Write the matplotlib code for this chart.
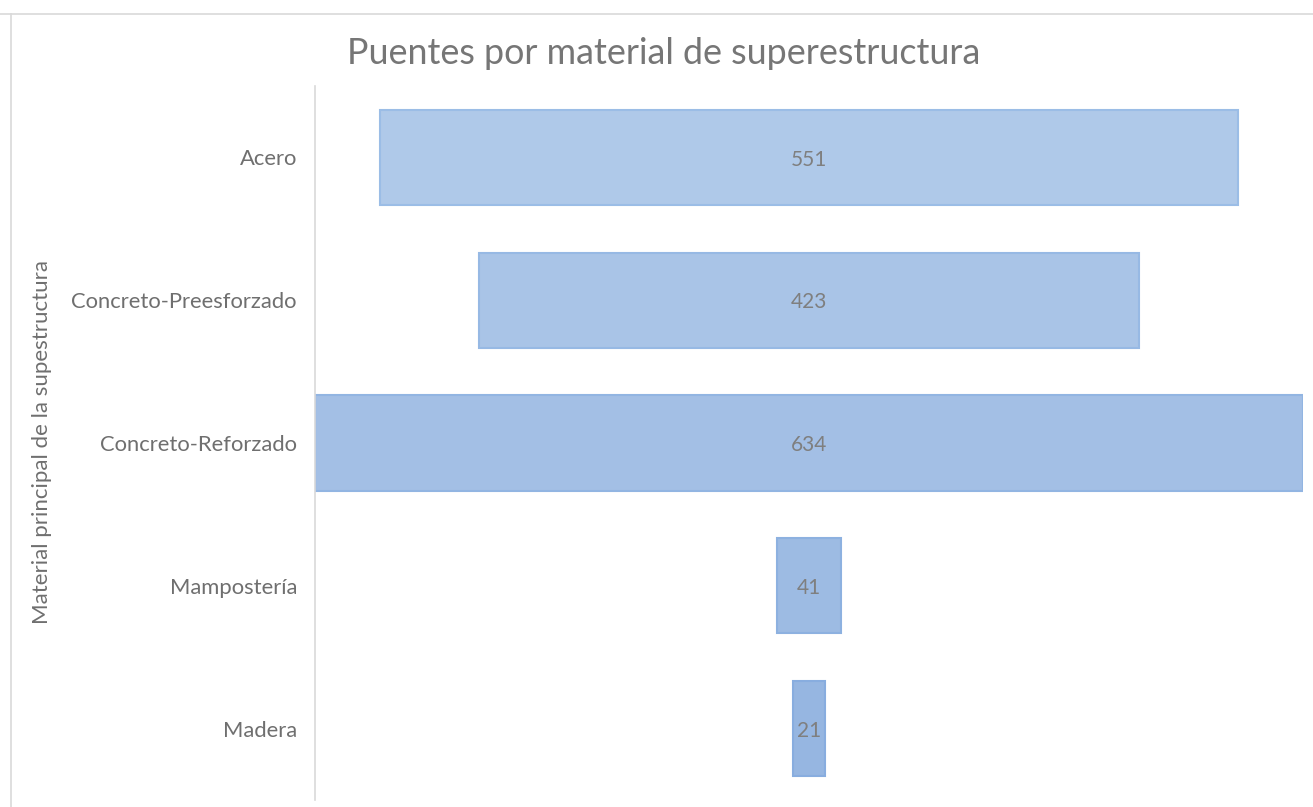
import matplotlib
matplotlib.use("Agg")
import matplotlib.pyplot as plt
from matplotlib.lines import Line2D

categories = ["Acero", "Concreto-Preesforzado", "Concreto-Reforzado", "Mampostería", "Madera"]
values = [551, 423, 634, 41, 21]
title = "Puentes por material de superestructura"
ylabel = "Material principal de la supestructura"

fill_colors = ["#afc9e9", "#a9c4e7", "#a3bfe5", "#9dbbe3", "#96b6e1"]
edge_colors = ["#9bbde6", "#97b9e4", "#92b5e2", "#8db1e0", "#88addf"]

W, H = 1313, 807
fig = plt.figure(figsize=(W / 100, H / 100), dpi=100)
plt.rcParams['font.family'] = ['Lato', 'DejaVu Sans']

# chart frame (partially visible)
fig.add_artist(Line2D([0, 1], [1 - 13.5 / H, 1 - 13.5 / H], color="#d9d9d9", lw=1.2, transform=fig.transFigure))
fig.add_artist(Line2D([10.5 / W, 10.5 / W], [0, 1 - 13.5 / H], color="#d9d9d9", lw=1.2, transform=fig.transFigure))

ax_l, ax_r, ax_t, ax_b = 315, 1303, 86, 800
ax = fig.add_axes([ax_l / W, 1 - ax_b / H, (ax_r - ax_l) / W, (ax_b - ax_t) / H])

ypos = list(range(len(categories)))
ax.barh(ypos, values, left=[-v / 2 for v in values], height=0.667,
        color=fill_colors, edgecolor=edge_colors, linewidth=1.5)
for y, v in zip(ypos, values):
    ax.text(0, y + 0.015, str(v), ha="center", va="center", fontsize=15, color="#7f7f7f")

ax.set_xlim(-max(values) / 2, max(values) / 2)
ax.set_ylim(len(categories) - 0.5, -0.5)
ax.set_yticks(ypos)
ax.set_yticklabels(categories, fontsize=15.8, color="#6f6f6f")
ax.tick_params(axis="y", length=0, pad=13)
ax.set_xticks([])
for s in ["top", "right", "bottom"]:
    ax.spines[s].set_visible(False)
ax.spines["left"].set_color("#d9d9d9")
ax.spines["left"].set_linewidth(1.2)

fig.text(42 / W, 1 - 442 / H, ylabel, rotation=90, ha="center", va="center", fontsize=16, color="#6f6f6f")
fig.text(664 / W, 1 - 53 / H, title, ha="center", va="center", fontsize=25.8, color="#767676")

fig.savefig("out.png", dpi=100)
